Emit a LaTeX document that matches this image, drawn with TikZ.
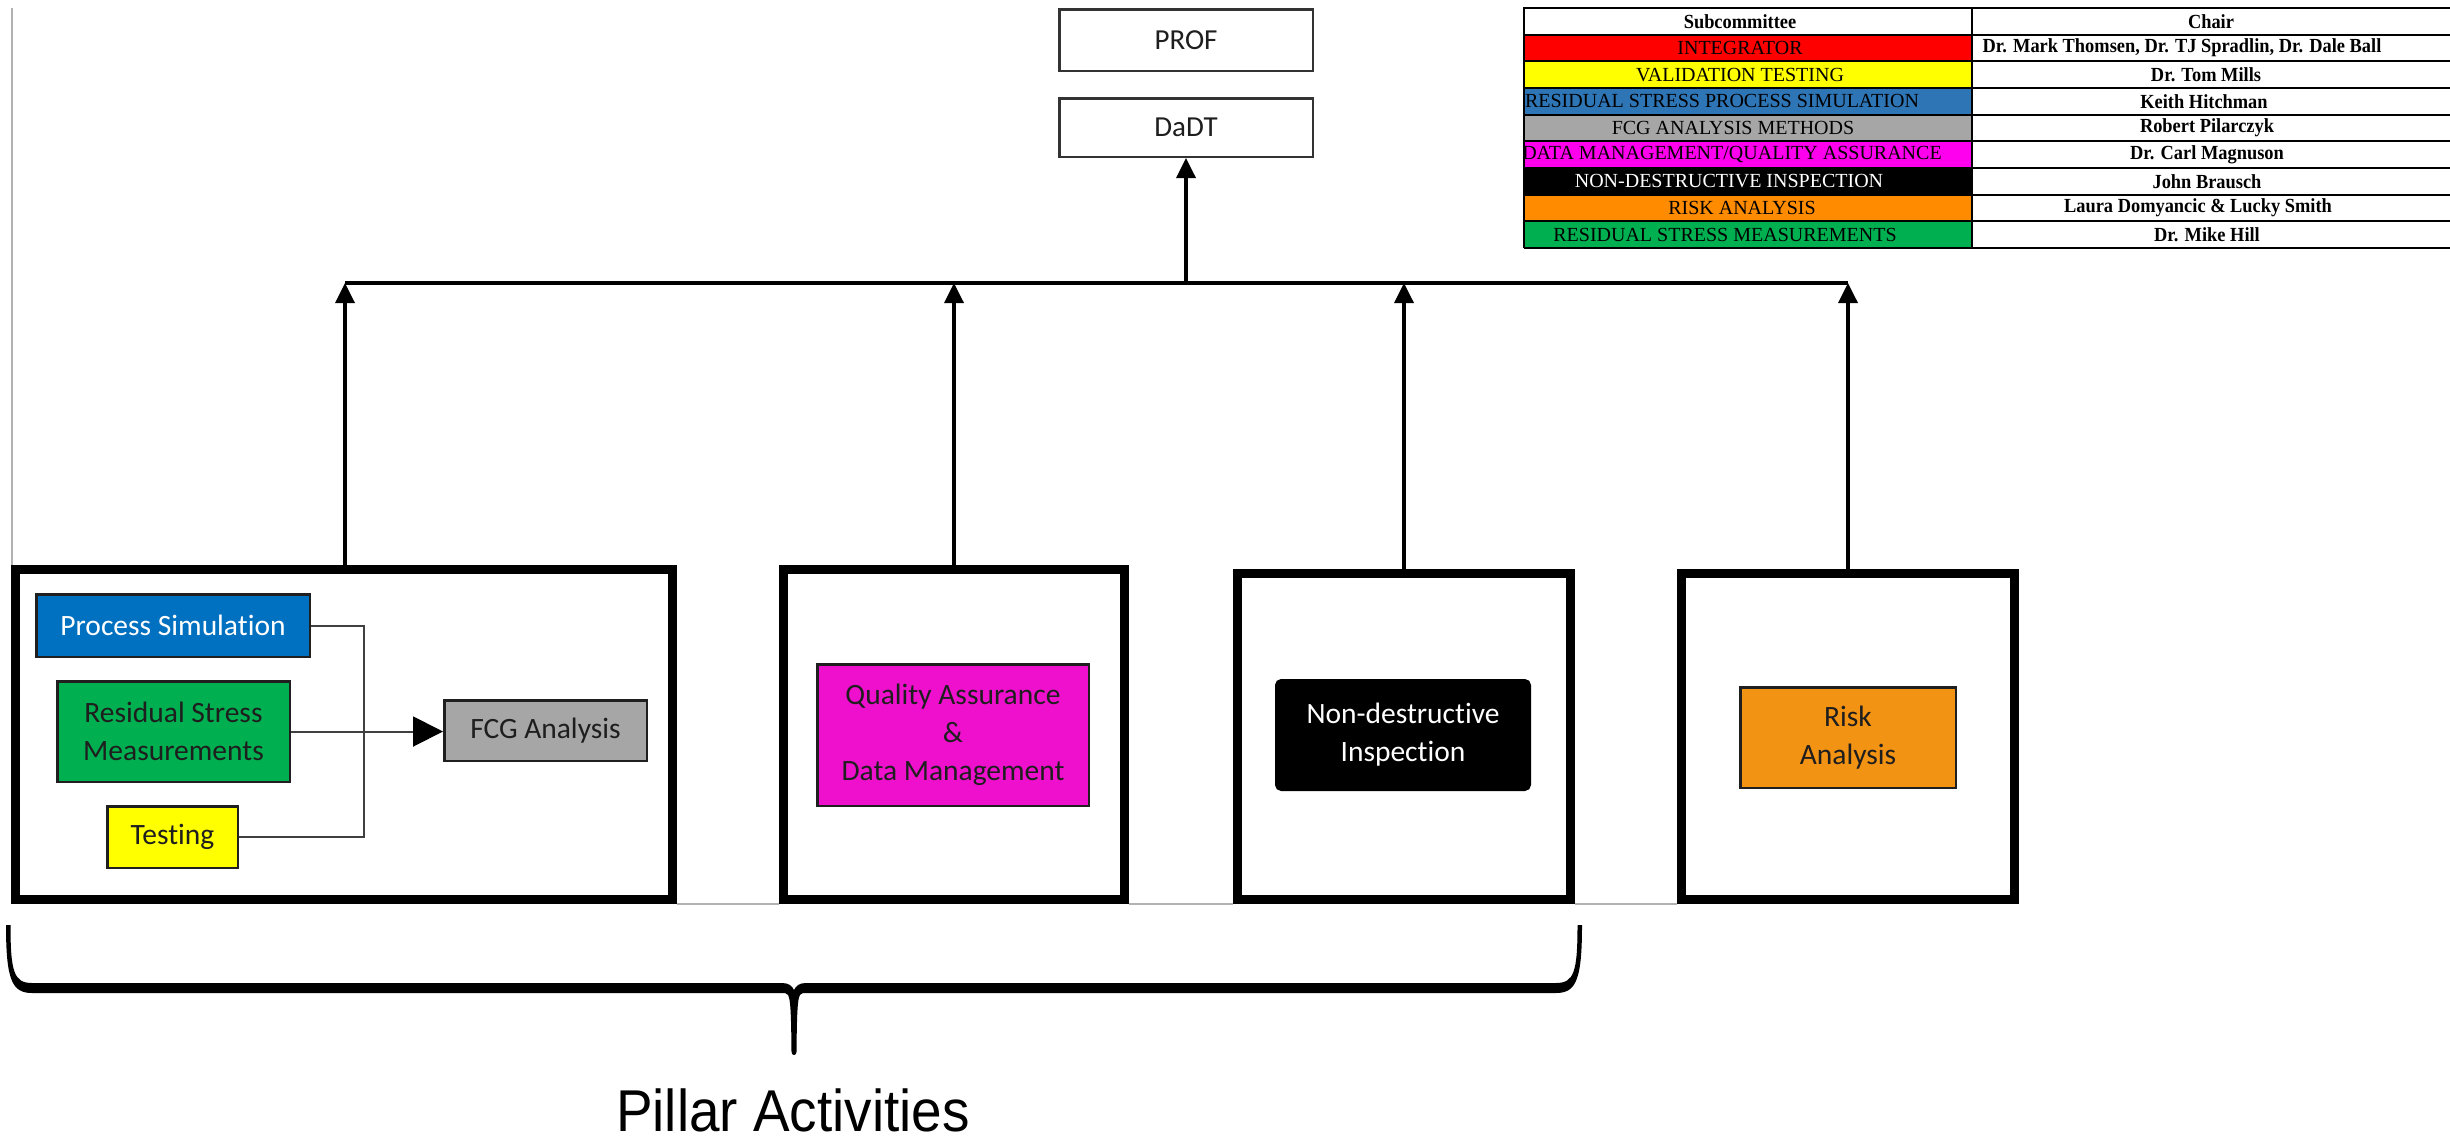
\documentclass[tikz,border=0pt]{standalone}
\usepackage{fontspec}
\setmainfont[Ligatures=CommonOff]{Carlito}
\newfontfamily\tabfont{Liberation Serif}
\newfontfamily\tabbold[FakeStretch=0.92]{Liberation Serif}
\newfontfamily\pillarfont[FakeStretch=0.93]{Liberation Sans}
\usetikzlibrary{arrows.meta}
\definecolor{psblue}{HTML}{0070C0}
\definecolor{rsgreen}{HTML}{00B050}
\definecolor{tyellow}{HTML}{FFFF00}
\definecolor{fcggray}{HTML}{A6A6A6}
\definecolor{qamag}{HTML}{EE10CC}
\definecolor{riskor}{HTML}{F39313}
\definecolor{tred}{HTML}{FF0000}
\definecolor{tblue}{HTML}{2E75B6}
\definecolor{tgray}{HTML}{A6A6A6}
\definecolor{tmag}{HTML}{FF00EE}
\definecolor{torange}{HTML}{FF8C00}
\definecolor{tgreen}{HTML}{00B050}
\definecolor{txt}{HTML}{1E1E1E}
\newcommand\tabrow[7]{%
  \pgfmathsetmacro\ytop{8+26.67*#1}%
  \pgfmathsetmacro\ybot{8+26.67*(#1+1)}%
  \pgfmathsetmacro\ymid{8+26.67*(#1+0.5)}%
  \fill[#2] (1524,\ytop) rectangle (1972,\ybot);
  \node[subtxt, text=#3] (sub#1) at (#4,\ymid) {#5};
  \node[chairtxt] (chair#1) at (#6,\ymid) {#7};
}
\begin{document}
\begin{tikzpicture}[x=1pt,y=-1pt,
  pillarbox/.style={draw=black, line width=9pt, fill=white, inner sep=0pt},
  inbox/.style={draw=black!88, line width=2.5pt, inner sep=0pt, align=center,
    text=txt, font=\fontsize{29.5}{38}\selectfont},
  topbox/.style={draw=black!80, line width=2.5pt, fill=white, inner sep=0pt,
    text=txt, font=\fontsize{29}{34}\selectfont, minimum width=253.5pt, minimum height=60pt},
  conn/.style={draw=black!75, line width=2pt},
  busline/.style={draw=black, line width=3.5pt},
  uparrow/.style={draw=black, line width=3.5pt, -{Triangle[length=20pt,width=19pt]}},
  bigarrow/.style={draw=black!75, line width=2pt, -{Triangle[length=30pt,width=30pt,color=black]}},
  subtxt/.style={inner sep=0pt, font=\tabfont\fontsize{20}{22}\selectfont},
  chairtxt/.style={inner sep=0pt, text=black, font=\tabbold\bfseries\fontsize{20}{22}\selectfont},
  tabline/.style={draw=black, line width=2pt},
  faint/.style={draw=black!30, line width=1.5pt}
]
\useasboundingbox (0,0) rectangle (2450,1138);
\fill[white] (0,0) rectangle (2450,1138);

% faint frame lines
\coordinate (fl1) at (12,8);
\coordinate (fl2) at (12,565);
\draw[faint] (fl1) -- (fl2);

% pillar boxes
\node[pillarbox, minimum width=657pt, minimum height=330pt] (b1) at (344,734.5) {};
\node[pillarbox, minimum width=341pt, minimum height=330pt] (b2) at (954,734.5) {};
\node[pillarbox, minimum width=333pt, minimum height=326pt] (b3) at (1404,736.5) {};
\node[pillarbox, minimum width=333pt, minimum height=326pt] (b4) at (1848,736.5) {};
\draw[faint] (b1.south east) -- (b2.south west);
\draw[faint] (b2.south east) -- (b3.south west);
\draw[faint] (b3.south east) -- (b4.south west);

% inner nodes of box 1
\node[inbox, fill=psblue, text=white, minimum width=273.5pt, minimum height=62.5pt] (ps) at (173,625.5) {Process Simulation};
\node[inbox, fill=rsgreen, minimum width=232.5pt, minimum height=100.5pt] (rs) at (173.5,731.5) {Residual Stress\\Measurements};
\node[inbox, fill=tyellow, minimum width=130.5pt, minimum height=61.5pt] (ts) at (172.5,837) {Testing};
\node[inbox, fill=fcggray, minimum width=202.5pt, minimum height=60.5pt] (fcg) at (545.5,730.5) {FCG Analysis};
\coordinate (jt) at (364,625.5);
\coordinate (jb) at (364,837);
\draw[conn] (ps.east) -- (jt) -- (jb) -- (ts.east);
\draw[bigarrow] (rs.east) -- (rs.east -| fcg.west);

% other pillars
\node[inbox, fill=qamag, minimum width=271.5pt, minimum height=141.5pt] (qa) at (953,735) {Quality Assurance\\\&\\Data Management};
\node[inbox, fill=black, draw=black, text=white, rounded corners=5pt, minimum width=253.5pt, minimum height=109.5pt] (ndi) at (1403,735) {Non-destructive\\Inspection};
\node[inbox, fill=riskor, minimum width=215.5pt, minimum height=100.5pt] (risk) at (1848,737.5) {Risk\\Analysis};

% top boxes
\node[topbox, minimum height=61.5pt] (prof) at (1186,40) {PROF};
\node[topbox, minimum height=58.5pt] (dadt) at (1186,127.5) {DaDT};

% bus
\coordinate (busL) at (345,283);
\coordinate (busR) at (1848,283);
\coordinate (busM) at (1186,283);
\draw[busline] (busL) -- (busR);
\draw[uparrow] (b1.north -| busL) -- (busL);
\draw[uparrow] (b2.north) -- (b2.north |- busL);
\draw[uparrow] (b3.north) -- (b3.north |- busL);
\draw[uparrow] (b4.north) -- (b4.north |- busL);
\draw[uparrow] (busM) -- (dadt.south);

% brace
\fill[black] (6,925) -- (10.5,925)
  .. controls (10.5,972) and (14,983) .. (32,983)
  -- (782,983)
  .. controls (789,983) and (792,986) .. (794,990)
  .. controls (796,986) and (799,983) .. (806,983)
  -- (1556,983)
  .. controls (1574,983) and (1577.5,972) .. (1577.5,925)
  -- (1582,925)
  .. controls (1582,980) and (1576,993) .. (1556,993)
  -- (803,993)
  .. controls (798,993) and (797,1000) .. (796.5,1052)
  .. controls (796,1056) and (792,1056) .. (791.5,1052)
  .. controls (791,1000) and (790,993) .. (785,993)
  -- (32,993)
  .. controls (12,993) and (6,980) .. (6,925) -- cycle;
\node[inner sep=0pt, anchor=base, text depth=0pt, font=\pillarfont\fontsize{59}{62}\selectfont] (pillar) at (793,1131) {Pillar Activities};

% table
\fill[white] (1972,8) rectangle (2455,248);
\node[chairtxt] (subH) at (1740,21.3) {Subcommittee};
\node[chairtxt] (chairH) at (2211,21.3) {Chair};
\tabrow{1}{tred}{black}{1740}{INTEGRATOR}{2182}{Dr. Mark Thomsen, Dr. TJ Spradlin, Dr. Dale Ball}
\tabrow{2}{tyellow}{black}{1740}{VALIDATION TESTING}{2206}{Dr. Tom Mills}
\tabrow{3}{tblue}{black}{1722}{RESIDUAL STRESS PROCESS SIMULATION}{2204}{Keith Hitchman}
\tabrow{4}{tgray}{black}{1733}{FCG ANALYSIS METHODS}{2207}{Robert Pilarczyk}
\tabrow{5}{tmag}{black}{1732}{DATA MANAGEMENT/QUALITY ASSURANCE}{2207}{Dr. Carl Magnuson}
\tabrow{6}{black}{white}{1729}{NON-DESTRUCTIVE INSPECTION}{2207}{John Brausch}
\tabrow{7}{torange}{black}{1742}{RISK ANALYSIS}{2198}{Laura Domyancic \& Lucky Smith}
\tabrow{8}{tgreen}{black}{1725}{RESIDUAL STRESS MEASUREMENTS}{2207}{Dr. Mike Hill}
\draw[tabline] (1524,248) -- (1524,8) -- (2455,8);
\draw[tabline] (1972,8) -- (1972,248);
\foreach \i in {1,...,8} \draw[tabline] (1524,{8+26.67*\i}) -- (2455,{8+26.67*\i});
\draw[tabline] (1524,248) -- (2455,248);
\end{tikzpicture}
\end{document}
